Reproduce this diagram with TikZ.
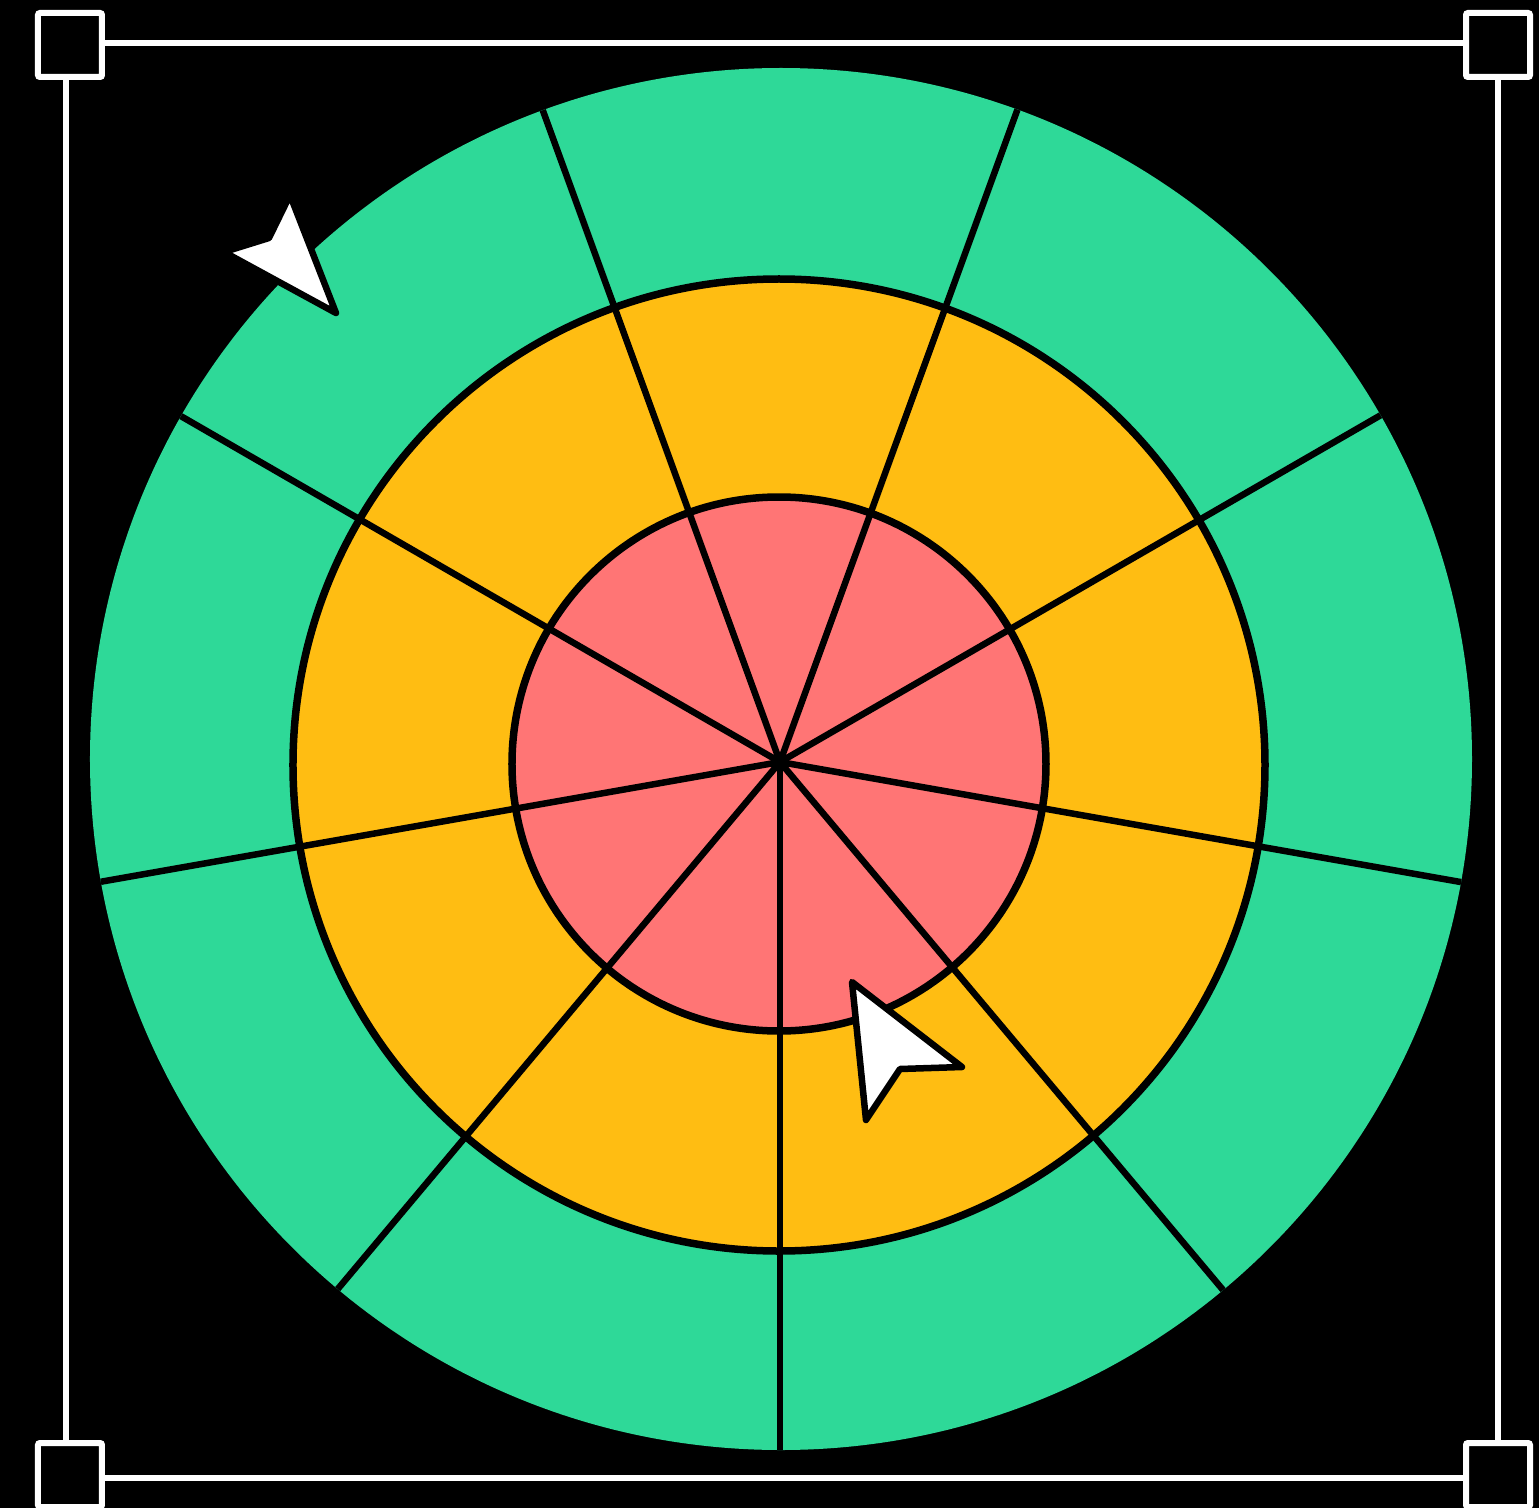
\documentclass[tikz,border=0pt]{standalone}
\usepackage{tikz}
\definecolor{ringgreen}{RGB}{46,217,152}
\definecolor{ringorange}{RGB}{255,189,18}
\definecolor{ringred}{RGB}{255,117,117}

\begin{document}
\begin{tikzpicture}[
  x=1pt,y=1pt,
  ring/.style={draw=black,line width=7.5pt},
  spoke/.style={black,line width=6.5pt},
  cursor/.style={fill=white,draw=black,line width=6.5pt,line join=round},
  handle/.style={rectangle,draw=white,fill=black,line width=6pt,minimum size=64pt,inner sep=0pt,rounded corners=2pt}
]
  \fill[black] (-780,-746) rectangle (759,762);
  \useasboundingbox (-780,-746) rectangle (759,762);

  % selection frame
  \coordinate (nw) at (-714,719);
  \coordinate (ne) at (718,719);
  \coordinate (se) at (718,-716);
  \coordinate (sw) at (-714,-716);
  \draw[white,line width=5.5pt] (nw) -- (ne) -- (se) -- (sw) -- cycle;
  \foreach \c/\dx/\dy in {nw/4/-2,ne/0/-2,se/0/3,sw/4/3}
    \node[handle] (h-\c) at ([shift={(\dx,\dy)}]\c) {};

  % rings
  \fill[ringgreen] (1,3) circle (691);
  \filldraw[ring,fill=ringorange] (-1,-3) circle (486);
  \filldraw[ring,fill=ringred] (-1,-2) circle (267);

  % spokes
  \begin{scope}
    \clip (1,3) circle (691);
    \foreach \a in {30,70,...,350}
      \draw[spoke] (0,0) -- (\a:720);
  \end{scope}

  % cursors
  \draw[cursor] (-444,449) -- (-490,567) -- (-511,524) -- (-556,510) -- cycle;
  \draw[cursor] (72,-220) -- (182,-305) -- (120,-307) -- (86,-358) -- cycle;
\end{tikzpicture}
\end{document}
